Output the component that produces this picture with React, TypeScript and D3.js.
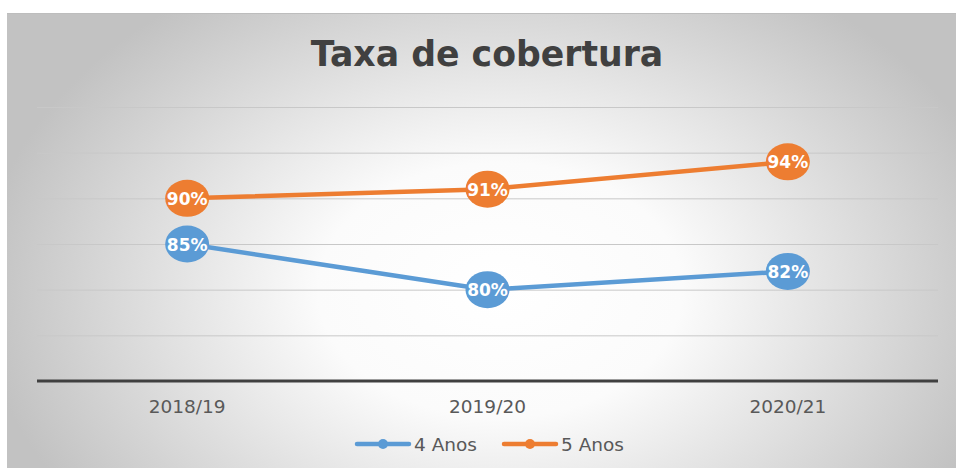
import { useEffect, useRef } from 'react';
import * as d3 from 'd3';

const categories = ['2018/19', '2019/20', '2020/21'];
const anos4 = [85, 80, 82];
const anos5 = [90, 91, 94];
const yTicks = [70, 75, 80, 85, 90, 95, 100];
const seriesNames = ['4 Anos', '5 Anos'];

const W = 956;
const H = 468;

export default function App() {
  const svgRef = useRef<SVGSVGElement>(null);

  useEffect(() => {
    if (!svgRef.current) return;
    const svg = d3.select(svgRef.current);
    svg.selectAll('*').remove();

    // background
    const defs = svg.append('defs');
    const grad = defs.append('radialGradient')
      .attr('id', 'bg')
      .attr('gradientUnits', 'userSpaceOnUse')
      .attr('cx', 500).attr('cy', 290).attr('r', 520)
      .attr('gradientTransform', 'translate(500,290) scale(1,0.7) translate(-500,-290)');
    grad.append('stop').attr('offset', '0%').attr('stop-color', '#ffffff');
    grad.append('stop').attr('offset', '35%').attr('stop-color', '#fbfbfb');
    grad.append('stop').attr('offset', '100%').attr('stop-color', '#c2c2c2');

    svg.append('rect').attr('width', W).attr('height', H).attr('fill', '#ffffff');
    svg.append('rect')
      .attr('x', 7).attr('y', 13).attr('width', W - 7).attr('height', H - 13)
      .attr('fill', 'url(#bg)');
    svg.append('line')
      .attr('x1', 7).attr('x2', W).attr('y1', 13.5).attr('y2', 13.5)
      .attr('stroke', '#bdbdbd').attr('stroke-width', 1);

    const x = d3.scalePoint<string>().domain(categories).range([37, 938]).padding(0.5);
    const y = d3.scaleLinear().domain([70, 100]).range([381, 107]);

    // title
    svg.append('text')
      .attr('x', 487).attr('y', 66)
      .attr('text-anchor', 'middle')
      .attr('font-family', 'DejaVu Sans, sans-serif')
      .attr('font-weight', 'bold')
      .attr('font-size', 34.7)
      .attr('fill', '#404040')
      .text('Taxa de cobertura');

    // grid
    svg.append('g')
      .selectAll('line')
      .data(yTicks.filter(t => t > 70))
      .enter()
      .append('line')
      .attr('x1', 37).attr('x2', 938)
      .attr('y1', d => y(d) + 0.5).attr('y2', d => y(d) + 0.5)
      .attr('stroke', '#c8c8c8').attr('stroke-width', 1);

    // axis line
    svg.append('line')
      .attr('x1', 37).attr('x2', 938)
      .attr('y1', y(70)).attr('y2', y(70))
      .attr('stroke', '#404040').attr('stroke-width', 3);

    // x labels
    svg.append('g')
      .selectAll('text')
      .data(categories)
      .enter()
      .append('text')
      .attr('x', d => x(d)!)
      .attr('y', 413)
      .attr('text-anchor', 'middle')
      .attr('font-family', 'DejaVu Sans, sans-serif')
      .attr('font-size', 18.5)
      .attr('fill', '#595959')
      .text(d => d);

    const series = [
      { name: seriesNames[0], values: anos4, color: '#5b9bd5' },
      { name: seriesNames[1], values: anos5, color: '#ed7d31' },
    ];

    const line = d3.line<number>()
      .x((_, i) => x(categories[i])!)
      .y(d => y(d));

    series.forEach(s => {
      svg.append('path')
        .datum(s.values)
        .attr('fill', 'none')
        .attr('stroke', s.color)
        .attr('stroke-width', 4.5)
        .attr('stroke-linecap', 'round')
        .attr('d', line);

      const pts = svg.append('g');
      pts.selectAll('ellipse')
        .data(s.values)
        .enter()
        .append('ellipse')
        .attr('cx', (_, i) => x(categories[i])!)
        .attr('cy', d => y(d))
        .attr('rx', 22)
        .attr('ry', 18.5)
        .attr('fill', s.color);

      pts.selectAll('text')
        .data(s.values)
        .enter()
        .append('text')
        .attr('x', (_, i) => x(categories[i])!)
        .attr('y', d => y(d) + 6.5)
        .attr('text-anchor', 'middle')
        .attr('font-family', 'DejaVu Sans, sans-serif')
        .attr('font-weight', 'bold')
        .attr('font-size', 17)
        .attr('fill', '#ffffff')
        .text(d => `${d}%`);
    });

    // legend
    const legendX = [355, 502];
    series.forEach((s, i) => {
      const g = svg.append('g').attr('transform', `translate(${legendX[i]}, 444)`);
      g.append('line')
        .attr('x1', 2).attr('x2', 54).attr('y1', 0).attr('y2', 0)
        .attr('stroke', s.color).attr('stroke-width', 4.5)
        .attr('stroke-linecap', 'round');
      g.append('circle').attr('cx', 28).attr('cy', 0).attr('r', 5).attr('fill', s.color);
      g.append('text')
        .attr('x', 59).attr('y', 6.5)
        .attr('font-family', 'DejaVu Sans, sans-serif')
        .attr('font-size', 18.5)
        .attr('fill', '#595959')
        .text(s.name);
    });
  }, []);

  return (
    <svg
      ref={svgRef}
      width={W}
      height={H}
      style={{ position: 'absolute', left: 0, top: 0 }}
    />
  );
}
